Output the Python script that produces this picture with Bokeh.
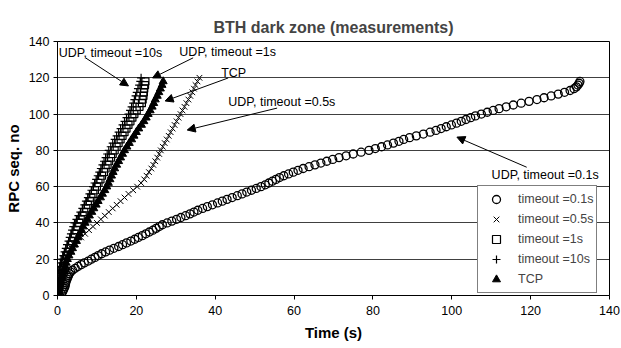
from bokeh.plotting import figure
from bokeh.models import Range1d, FixedTicker, Label, Arrow, NormalHead, Legend, LegendItem
from bokeh.embed import file_html
from bokeh.resources import INLINE

# ---- data (time in s vs RPC sequence number) ----
seq_01 = list(range(0, 119))
time_01 = [0.5, 1.0, 1.3, 1.5, 1.7, 1.9, 2.0, 2.1, 2.2, 2.4,
           2.6, 2.8, 3.0, 3.3, 3.8, 4.5, 5.2, 6.0, 6.8, 7.8,
           8.6, 9.5, 10.3, 11.2, 12.2, 13.2, 14.3, 15.5, 16.5, 17.5,
           18.6, 19.6, 20.5, 21.5, 22.4, 23.3, 24.2, 25.0, 25.8, 26.6,
           27.8, 29.0, 30.2, 31.3, 32.5, 33.6, 34.6, 35.6, 36.8, 38.0,
           39.3, 40.6, 41.8, 43.0, 44.3, 45.6, 46.8, 48.0, 49.2, 50.4,
           51.6, 52.7, 53.6, 54.5, 55.4, 56.3, 57.4, 58.6, 59.8, 61.0,
           62.3, 63.8, 65.3, 66.8, 68.3, 69.8, 71.4, 73.2, 75.0, 77.0,
           79.0, 80.6, 82.2, 83.7, 85.2, 86.6, 87.8, 89.3, 91.0, 92.8,
           94.5, 96.0, 97.3, 98.6, 99.9, 101.2, 102.4, 103.6, 104.8, 106.0,
           107.5, 109.0, 110.5, 112.0, 113.8, 115.6, 117.6, 119.6, 121.6, 123.4,
           125.2, 127.0, 128.6, 130.0, 131.0, 131.6, 132.0, 132.3, 132.5]

seq_05 = list(range(0, 121, 2))
time_05 = [0.0, 0.1, 0.2, 0.3, 0.5, 0.6, 0.8, 0.9, 1.1, 1.3,
           1.6, 2.2, 2.8, 3.5, 4.2, 5.0, 6.0, 7.0, 8.0, 9.0,
           10.0, 11.0, 12.0, 13.0, 14.0, 15.0, 16.0, 17.0, 18.0, 19.2,
           20.2, 21.2, 22.0, 22.6, 23.2, 23.8, 24.3, 24.8, 25.3, 25.8,
           26.2, 26.7, 27.2, 27.7, 28.2, 28.7, 29.2, 29.7, 30.2, 30.7,
           31.2, 31.7, 32.2, 32.7, 33.2, 33.7, 34.2, 34.6, 35.0, 35.5, 36.0]

seq_1 = list(range(0, 119, 2))
time_1 = [0.1, 0.2, 0.3, 0.4, 0.6, 0.8, 1.0, 1.2, 1.4, 1.6,
          1.8, 2.2, 2.6, 3.0, 3.4, 3.7, 4.1, 4.4, 4.8, 5.1,
          5.5, 5.9, 6.4, 6.8, 7.3, 7.7, 8.2, 8.6, 9.1, 9.5,
          10.0, 10.4, 10.9, 11.3, 11.8, 12.2, 12.7, 13.1, 13.6, 14.0,
          14.5, 15.0, 15.5, 16.0, 16.5, 17.0, 17.5, 18.0, 18.5, 19.0,
          19.5, 20.1, 20.8, 21.4, 21.6, 21.8, 21.9, 22.0, 22.2, 22.3]

seq_10 = list(range(0, 121, 2))
time_10 = [0.0, 0.05, 0.1, 0.2, 0.3, 0.4, 0.6, 0.7, 0.9, 1.0,
           1.2, 1.5, 1.8, 2.1, 2.4, 2.8, 3.1, 3.4, 3.7, 4.0,
           4.3, 4.8, 5.3, 5.8, 6.3, 6.8, 7.2, 7.7, 8.1, 8.6,
           9.0, 9.4, 9.8, 10.2, 10.6, 11.0, 11.4, 11.8, 12.2, 12.6,
           13.0, 13.5, 14.0, 14.5, 15.0, 15.5, 16.0, 16.5, 17.0, 17.5,
           18.0, 18.4, 18.8, 19.2, 19.5, 19.8, 20.1, 20.4, 20.7, 21.0, 21.2]

seq_tcp = list(range(0, 119, 2))
time_tcp = [0.3, 0.4, 0.5, 0.7, 0.9, 1.1, 1.4, 1.7, 2.0, 2.2,
            2.5, 2.9, 3.4, 3.8, 4.3, 4.8, 5.2, 5.6, 6.1, 6.5,
            7.0, 7.6, 8.1, 8.7, 9.2, 9.8, 10.3, 10.9, 11.4, 12.0,
            12.5, 12.9, 13.3, 13.7, 14.1, 14.5, 15.0, 15.5, 16.0, 16.5,
            17.0, 17.6, 18.2, 18.8, 19.4, 20.0, 20.6, 21.3, 21.9, 22.5,
            23.0, 23.5, 24.0, 24.4, 24.8, 25.3, 25.7, 26.1, 26.5, 26.8]

legend_labels = ["timeout =0.1s", "timeout =0.5s", "timeout =1s", "timeout =10s", "TCP"]
axis_ticks = [0, 20, 40, 60, 80, 100, 120, 140]

# annotation texts: (text, text x, text y, arrow start x, y, arrow end x, y)
notes = [
    ("UDP, timeout =10s", 0.3, 133.7, 7.1, 131.0, 18.0, 115.5),
    ("UDP, timeout =1s", 30.9, 134.3, 34.4, 131.0, 24.1, 119.9),
    ("TCP", 41.5, 122.7, 43.3, 119.9, 27.3, 107.2),
    ("UDP, timeout =0.5s", 43.3, 106.6, 55.7, 103.3, 32.9, 91.2),
    ("UDP, timeout =0.1s", 110.1, 66.3, 119.0, 70.7, 101.3, 87.3),
]

FONT = "Liberation Sans"

p = figure(width=621, height=348, output_backend="svg", toolbar_location=None,
           x_range=Range1d(0, 140), y_range=Range1d(0, 140),
           min_border_left=57, min_border_right=12, min_border_top=41, min_border_bottom=53,
           title="BTH dark zone (measurements)")
p.background_fill_color = "white"
p.border_fill_color = "white"
p.outline_line_color = "black"
p.outline_line_width = 1

p.title.align = "center"
p.title.text_font = FONT
p.title.text_font_size = "16px"
p.title.text_font_style = "bold"
p.title.standoff = 12

for ax in (p.xaxis[0], p.yaxis[0]):
    ax.ticker = FixedTicker(ticks=axis_ticks)
    ax.major_tick_in = 0
    ax.major_tick_out = 4
    ax.minor_tick_out = 0
    ax.minor_tick_in = 0
    ax.axis_line_color = "black"
    ax.major_tick_line_color = "black"
    ax.major_label_text_font = FONT
    ax.major_label_text_font_size = "12.5px"
    ax.major_label_text_color = "black"
    ax.axis_label_text_font = FONT
    ax.axis_label_text_font_size = "15px"
    ax.axis_label_text_font_style = "bold"
    ax.axis_label_text_color = "black"

p.xaxis.axis_label = "Time (s)"
p.yaxis.axis_label = "RPC seq. no"
p.xaxis.axis_label_standoff = 6
p.yaxis.axis_label_standoff = 4
p.yaxis.major_label_standoff = 4
p.xaxis.major_label_standoff = 6

p.xgrid.visible = False
p.ygrid.ticker = FixedTicker(ticks=axis_ticks)
p.ygrid.grid_line_color = "black"
p.ygrid.grid_line_alpha = 0.75

r01 = p.scatter(time_01, seq_01, marker="circle", size=8, fill_color=None, line_color="black", line_width=1.3)
r05 = p.scatter(time_05, seq_05, marker="x", size=8, line_color="black", line_width=1)
r1 = p.scatter(time_1, seq_1, marker="square", size=7, fill_color=None, line_color="black", line_width=1.2)
r10 = p.scatter(time_10, seq_10, marker="cross", size=8, line_color="black", line_width=1.2)
rtcp = p.scatter(time_tcp, seq_tcp, marker="triangle", size=8, fill_color="black", line_color="black")

for txt, tx, ty, ax0, ay0, ax1, ay1 in notes:
    p.add_layout(Label(x=tx, y=ty, text=txt, text_font=FONT, text_font_size="12.5px",
                       text_baseline="middle", text_align="left", text_color="black"))
    p.add_layout(Arrow(x_start=ax0, y_start=ay0, x_end=ax1, y_end=ay1, line_color="black", line_width=1,
                       end=NormalHead(size=8, fill_color="black", line_color="black")))

legend = Legend(items=[LegendItem(label=l, renderers=[r]) for l, r in
                       zip(legend_labels, [r01, r05, r1, r10, rtcp])],
                location=(420, 2), padding=3, spacing=0, margin=0,
                glyph_width=30, glyph_height=20, label_height=20, label_standoff=7,
                label_text_font=FONT, label_text_font_size="12.5px",
                border_line_color="black", border_line_width=1, background_fill_color="white",
                background_fill_alpha=1.0)
p.add_layout(legend)

open("out.html", "w").write(file_html(p, INLINE))
